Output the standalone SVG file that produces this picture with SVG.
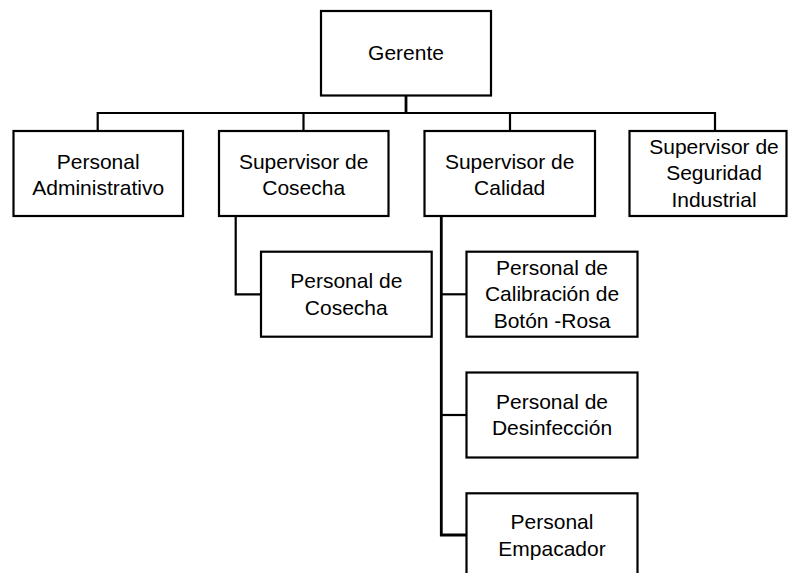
<svg xmlns="http://www.w3.org/2000/svg" width="788" height="573" viewBox="0 0 788 573">
<style>
.box{fill:#fff;stroke:#000;stroke-width:2.2}
.ln{fill:none;stroke:#000;stroke-width:2.2}
.thick{stroke-width:2.8}
text{font-family:"Liberation Sans",Arial,sans-serif;font-size:21px;fill:#000;text-anchor:middle}
</style>
<rect width="788" height="573" fill="#fff"/>
<g id="connectors">
<line class="ln thick" x1="406" y1="96" x2="406" y2="113"/>
<polyline class="ln" points="97.7,131 97.7,113 715,113 715,131"/>
<line class="ln" x1="303.5" y1="113" x2="303.5" y2="131"/>
<line class="ln" x1="510" y1="113" x2="510" y2="131"/>
<polyline class="ln" points="235.7,216 235.7,294.3 261,294.3"/>
<polyline class="ln thick" points="441.3,216 441.3,535 466,535"/>
<line class="ln" x1="441.3" y1="294.3" x2="466" y2="294.3"/>
<line class="ln" x1="441.3" y1="415" x2="466" y2="415"/>
</g>
<g id="gerente">
<rect class="box" x="321" y="11" width="170" height="84.5"/>
<text x="406" y="60">Gerente</text>
</g>
<g id="personal-administrativo">
<rect class="box" x="13.5" y="131" width="169.5" height="85"/>
<text x="98.2" y="168.5">Personal</text>
<text x="98.2" y="195">Administrativo</text>
</g>
<g id="supervisor-cosecha">
<rect class="box" x="219" y="131" width="169.5" height="85"/>
<text x="303.7" y="168.5">Supervisor de</text>
<text x="303.7" y="195">Cosecha</text>
</g>
<g id="supervisor-calidad">
<rect class="box" x="424.5" y="131" width="170.5" height="85"/>
<text x="509.7" y="168.5">Supervisor de</text>
<text x="509.7" y="195">Calidad</text>
</g>
<g id="supervisor-seguridad">
<rect class="box" x="629.5" y="131" width="157" height="85"/>
<text x="714" y="154.3">Supervisor de</text>
<text x="714" y="180.3">Seguridad</text>
<text x="714" y="206.5">Industrial</text>
</g>
<g id="personal-cosecha">
<rect class="box" x="261" y="251.7" width="170.7" height="85"/>
<text x="346.3" y="288.3">Personal de</text>
<text x="346.3" y="314.5">Cosecha</text>
</g>
<g id="personal-calibracion">
<rect class="box" x="466.5" y="251.7" width="171" height="85"/>
<text x="552" y="275">Personal de</text>
<text x="552" y="301">Calibración de</text>
<text x="552" y="327.5">Botón -Rosa</text>
</g>
<g id="personal-desinfeccion">
<rect class="box" x="466.5" y="372.5" width="171" height="85"/>
<text x="552" y="409">Personal de</text>
<text x="552" y="435">Desinfección</text>
</g>
<g id="personal-empacador">
<rect class="box" x="466.5" y="493.3" width="171" height="85"/>
<text x="552" y="529.3">Personal</text>
<text x="552" y="556">Empacador</text>
</g>
</svg>
